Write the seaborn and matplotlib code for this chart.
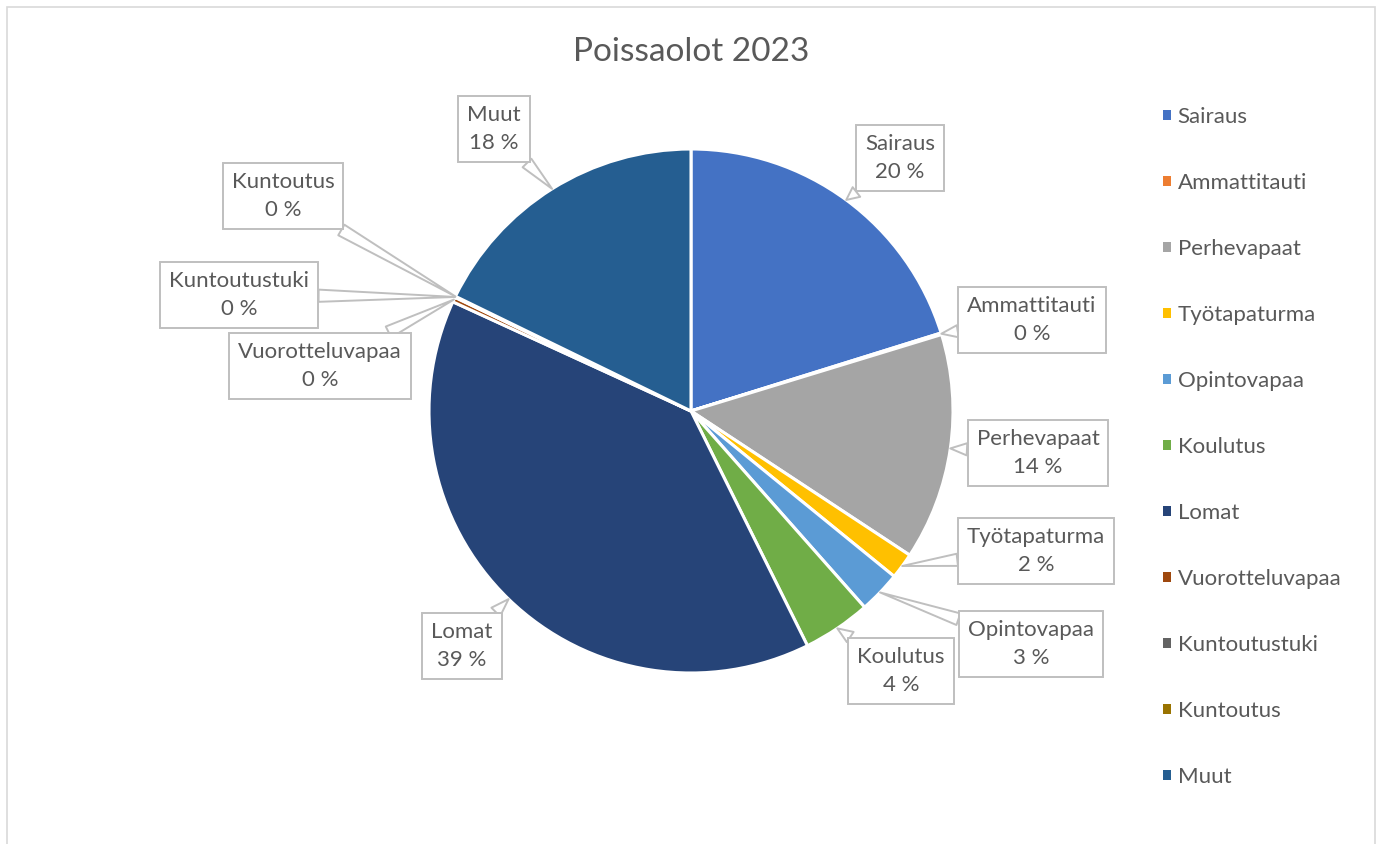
import numpy as np
import matplotlib
matplotlib.use("Agg")
import matplotlib.pyplot as plt
import seaborn as sns
from matplotlib.patches import Rectangle

# ---- data ----
categories = ["Sairaus", "Ammattitauti", "Perhevapaat", "Työtapaturma", "Opintovapaa",
              "Koulutus", "Lomat", "Vuorotteluvapaa", "Kuntoutustuki", "Kuntoutus", "Muut"]
values = [20.2, 0.1, 14.0, 1.6, 2.6, 4.2, 39.2, 0.3, 0.05, 0.02, 17.8]
colors = ["#4472C4", "#ED7D31", "#A5A5A5", "#FFC000", "#5B9BD5", "#70AD47",
          "#264478", "#9E480E", "#636363", "#997300", "#255E91"]
title = "Poissaolot 2023"

# ---- layout (label box centres, figure pixels from top-left) ----
label_pos_px = [(900, 158), (1032, 320), (1038, 453), (1036, 551), (1031, 644),
                (901, 671), (462, 646), (320, 366), (239, 295), (283, 196), (494, 129)]

W, H = 1381, 844
sns.set_theme(style="white")
plt.rcParams["font.family"] = ["Lato", "DejaVu Sans"]
TXT = "#595959"

fig = plt.figure(figsize=(W / 100, H / 100), dpi=100)
fig.patch.set_facecolor("white")

cx, cy, R = 691, 411, 262
ax = fig.add_axes([(cx - R) / W, (H - cy - R) / H, 2 * R / W, 2 * R / H])
wedges, _ = ax.pie(values, colors=colors, startangle=90, counterclock=False,
                   radius=1.0, wedgeprops=dict(edgecolor="white", linewidth=2.2))
ax.set_xlim(-1, 1)
ax.set_ylim(-1, 1)
ax.set_aspect("equal")
ax.axis("off")

total = sum(values)
for w, cat, v, (px, py) in zip(wedges, categories, values, label_pos_px):
    ang = np.deg2rad((w.theta1 + w.theta2) / 2)
    xy = (np.cos(ang), np.sin(ang))
    pct = int(round(v / total * 100))
    ax.annotate(f"{cat}\n{pct} %", xy=xy, xycoords="data",
                xytext=(px / W, 1 - py / H), textcoords="figure fraction",
                ha="center", va="center", fontsize=16, color=TXT, linespacing=1.55,
                bbox=dict(boxstyle="square,pad=0.4", fc="white", ec="#BFBFBF", lw=1.4),
                arrowprops=dict(arrowstyle="wedge,tail_width=0.55,shrink_factor=0.5",
                                fc="white", ec="#BFBFBF", lw=1.4, shrinkA=0, shrinkB=0),
                zorder=5)

fig.text(cx / W, 1 - 52 / H, title, ha="center", va="center", fontsize=24, color=TXT)

leg = fig.legend(wedges, categories, loc="upper left",
                 bbox_to_anchor=(1152 / W, 1 - 96 / H), frameon=False,
                 fontsize=16, labelcolor=TXT, labelspacing=2.07,
                 handlelength=0.36, handleheight=0.36, handletextpad=0.3, borderpad=0)
for h in leg.legend_handles:
    h.set_edgecolor("none")

fig.patches.append(Rectangle((7 / W, -0.01), (1375 - 7) / W, 1 - 7 / H + 0.01,
                             transform=fig.transFigure, fill=False, ec="#D9D9D9", lw=1.2))

fig.savefig("out.png", dpi=100, facecolor="white")
